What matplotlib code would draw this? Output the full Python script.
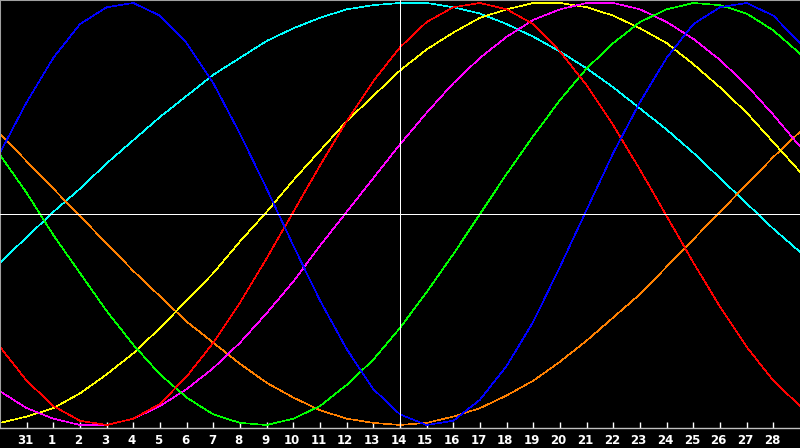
import matplotlib
matplotlib.use("Agg")
import matplotlib.pyplot as plt
import matplotlib.transforms as mtransforms

# day index along the x axis (0..30)
days = list(range(31))

# x tick positions and their labels (day of month)
tick_pos = list(range(1, 30))
tick_labels = ["31"] + [str(d) for d in range(1, 29)]

# vertical marker (today) and horizontal zero line
today_pos = 15

blue = [0.29, 0.53, 0.74, 0.90, 0.98, 1.00, 0.94, 0.81, 0.62, 0.38, 0.12, -0.15,
        -0.41, -0.64, -0.83, -0.95, -1.00, -0.98, -0.88, -0.72, -0.51, -0.25, 0.02,
        0.29, 0.53, 0.74, 0.90, 0.98, 1.00, 0.94, 0.81]
red = [-0.63, -0.79, -0.91, -0.98, -1.00, -0.97, -0.90, -0.77, -0.61, -0.42, -0.21,
       0.01, 0.23, 0.44, 0.63, 0.79, 0.91, 0.98, 1.00, 0.97, 0.90, 0.77, 0.61, 0.42,
       0.21, -0.01, -0.23, -0.44, -0.63, -0.79, -0.91]
green = [0.28, 0.10, -0.10, -0.28, -0.46, -0.62, -0.76, -0.87, -0.95, -0.99, -1.00,
         -0.97, -0.91, -0.81, -0.69, -0.54, -0.37, -0.19, 0.00, 0.19, 0.37, 0.54, 0.69,
         0.81, 0.91, 0.97, 1.00, 0.99, 0.95, 0.87, 0.76]
yellow = [-0.99, -0.96, -0.92, -0.85, -0.76, -0.66, -0.54, -0.41, -0.28, -0.13, 0.01,
          0.16, 0.30, 0.44, 0.56, 0.68, 0.78, 0.86, 0.93, 0.97, 1.00, 1.00, 0.98, 0.94,
          0.88, 0.81, 0.71, 0.60, 0.48, 0.34, 0.20]
magenta = [-0.84, -0.92, -0.97, -1.00, -1.00, -0.97, -0.91, -0.83, -0.73, -0.61, -0.47,
           -0.32, -0.15, 0.01, 0.17, 0.33, 0.48, 0.62, 0.74, 0.84, 0.92, 0.97, 1.00,
           1.00, 0.97, 0.91, 0.83, 0.73, 0.61, 0.47, 0.32]
cyan = [-0.23, -0.11, 0.01, 0.12, 0.24, 0.35, 0.46, 0.56, 0.66, 0.74, 0.82, 0.88, 0.93,
        0.97, 0.99, 1.00, 1.00, 0.98, 0.95, 0.90, 0.84, 0.77, 0.69, 0.60, 0.50, 0.40,
        0.29, 0.17, 0.05, -0.07, -0.18]
orange = [0.38, 0.25, 0.12, -0.01, -0.14, -0.27, -0.39, -0.51, -0.61, -0.71, -0.80,
          -0.87, -0.93, -0.97, -0.99, -1.00, -0.99, -0.96, -0.92, -0.86, -0.79, -0.70,
          -0.60, -0.49, -0.38, -0.25, -0.12, 0.01, 0.14, 0.27, 0.39]

series = [
    (cyan, "#00ffff"),
    (orange, "#ff8000"),
    (yellow, "#ffff00"),
    (magenta, "#ff00ff"),
    (green, "#00ff00"),
    (red, "#ff0000"),
    (blue, "#0000ff"),
]

fig = plt.figure(figsize=(8, 4.48), dpi=100, facecolor="black")
ax = fig.add_axes([0, 20 / 448, 1, 428 / 448])
ax.set_facecolor("black")

for vals, col in series:
    ax.plot(days, vals, color=col, linewidth=0.45, antialiased=False, zorder=2)

ax.axhline(0, color="white", linewidth=0.72, antialiased=False, zorder=3)
ax.axvline(today_pos, color="white", linewidth=0.72, antialiased=False, zorder=3)

ax.set_xlim(0, 30)
ax.set_ylim(-1.0142, 1.0142)

ax.set_xticks(tick_pos)
ax.set_xticklabels(tick_labels)
ax.tick_params(axis="x", direction="in", length=4, width=1, color="white",
               labelcolor="white", labelsize=8.5, pad=4)
shift = mtransforms.ScaledTranslation(-1.5 / 100, 0, fig.dpi_scale_trans)
for lbl in ax.get_xticklabels():
    lbl.set_fontweight("bold")
    lbl.set_transform(lbl.get_transform() + shift)
ax.set_yticks([])

for side in ["top", "left"]:
    ax.spines[side].set_color("#a0a0a0")
    ax.spines[side].set_linewidth(1.5)
ax.spines["bottom"].set_color("#c0c0c0")
ax.spines["bottom"].set_linewidth(1.0)
ax.spines["right"].set_visible(False)

fig.savefig("out.png", dpi=100, facecolor="black")
